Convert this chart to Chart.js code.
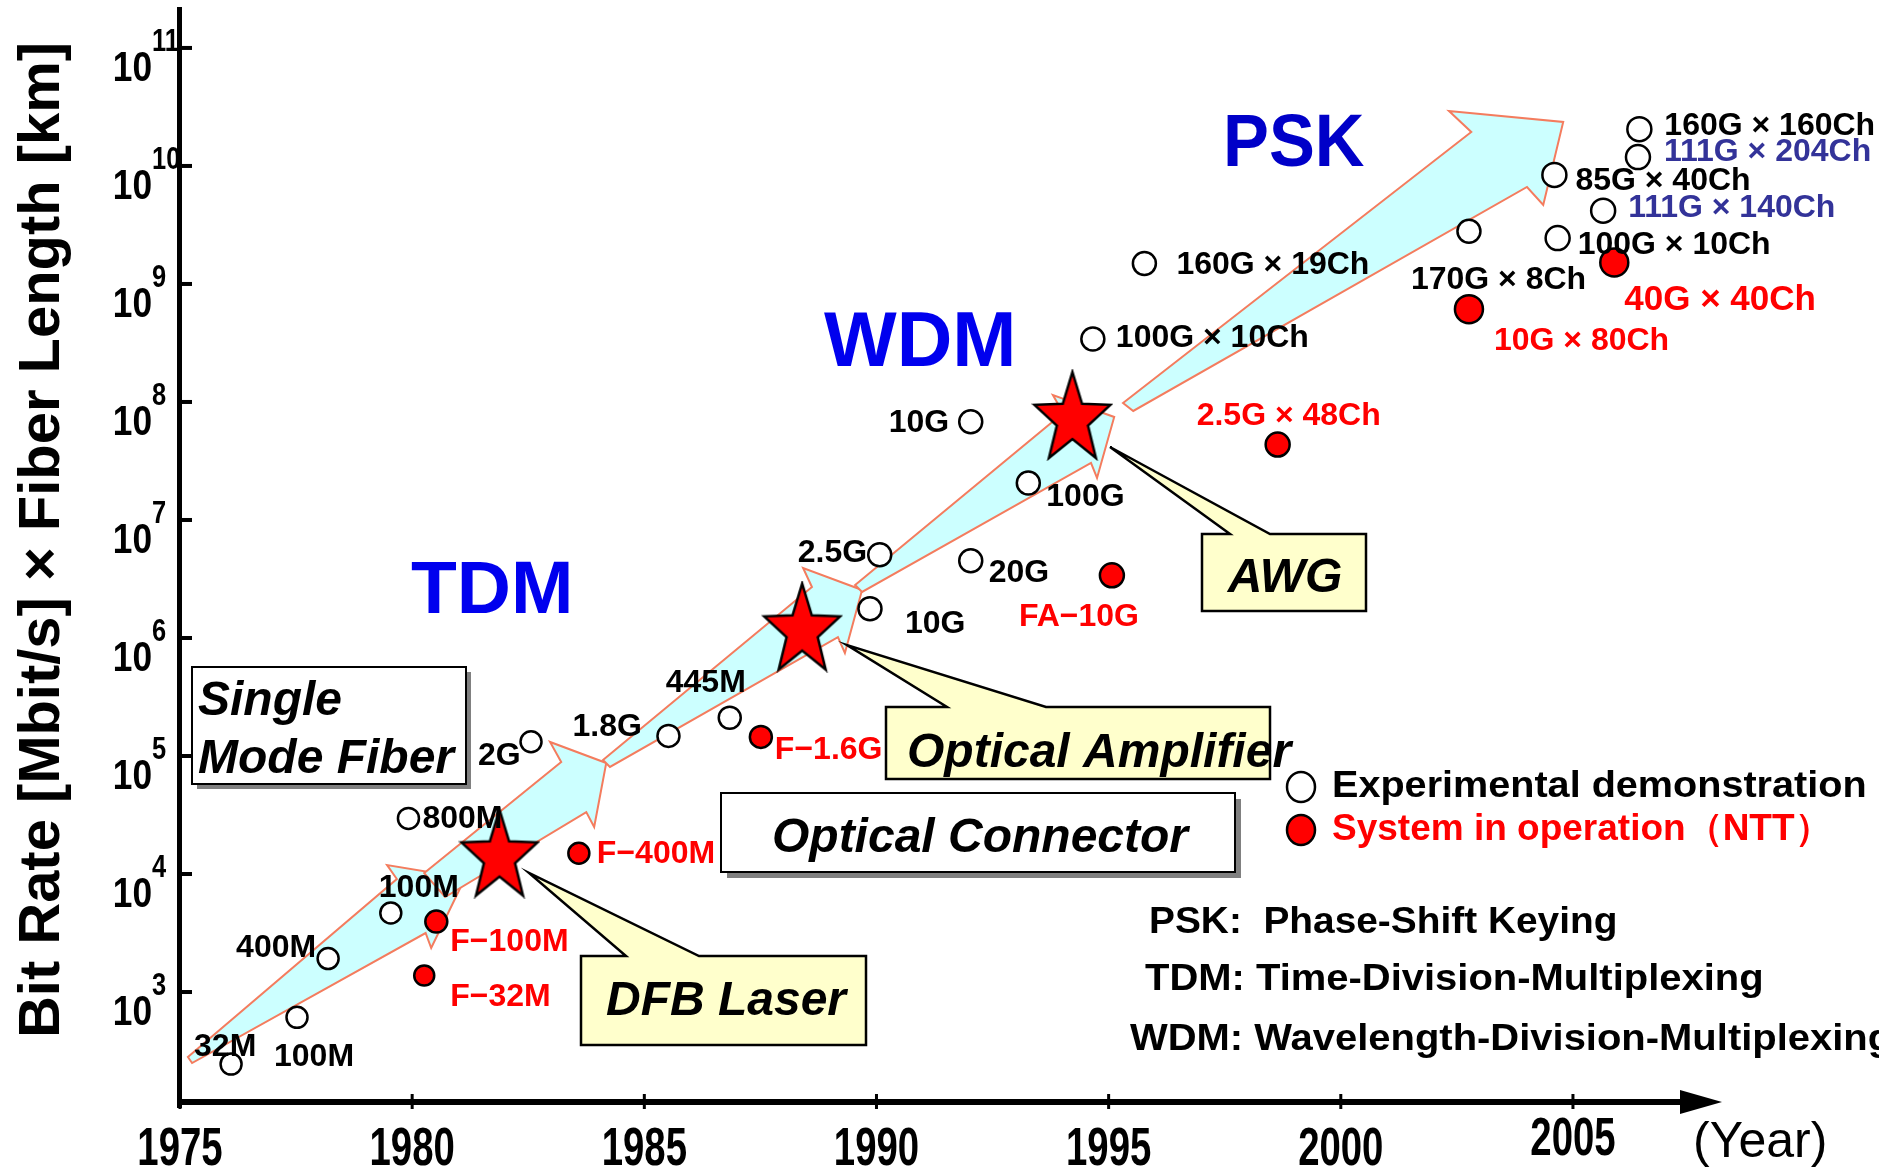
<!DOCTYPE html>
<html><head><meta charset="utf-8">
<script src="https://cdn.jsdelivr.net/npm/chart.js@4.4.1/dist/chart.umd.min.js"></script>
<style>html,body{margin:0;padding:0;background:#fff;} canvas{display:block;}</style>
</head><body>
<canvas id="c" width="1879" height="1172"></canvas>
<script>
// ---------------- DATA ----------------
const xTickYears = [1975, 1980, 1985, 1990, 1995, 2000, 2005];
const yTickExponents = [3, 4, 5, 6, 7, 8, 9, 10, 11];

// Experimental demonstrations (open circles)
const expYears  = [1976.10, 1977.52, 1978.19, 1979.54, 1979.92, 1982.56, 1985.52, 1986.84, 1990.07, 1989.86, 1992.03, 1993.27, 1992.03, 1994.66, 1995.77, 2002.76, 2004.60, 2004.67, 2005.65, 2006.40, 2006.43];
const expValues = [245, 610, 1920, 4670, 29600, 1.32e5, 1.48e5, 2.11e5, 5.07e6, 1.77e6, 4.51e6, 2.06e7, 6.79e7, 3.41e8, 1.49e9, 2.8e9, 8.4e9, 2.45e9, 4.18e9, 1.19e10, 2.05e10];
const expLabels = ['32M', '100M', '400M', '100M', '800M', '2G', '1.8G', '445M', '2.5G', '10G', '20G', '100G', '10G', '100G × 10Ch', '160G × 19Ch', '170G × 8Ch', '85G × 40Ch', '100G × 10Ch', '111G × 140Ch', '111G × 204Ch', '160G × 160Ch'];

// Systems in operation (NTT) (red dots)
const sysYears  = [1980.26, 1980.52, 1983.59, 1987.51, 1995.07, 1998.64, 2002.76, 2005.89];
const sysValues = [1380, 3950, 1.5e4, 1.45e5, 3.4e6, 4.36e7, 6.12e8, 1.52e9];
const sysLabels = ['F−32M', 'F−100M', 'F−400M', 'F−1.6G', 'FA−10G', '2.5G × 48Ch', '10G × 80Ch', '40G × 40Ch'];

// Key technologies (stars)
const techYears  = [1981.88, 1988.40, 1994.22];
const techValues = [1.52e4, 1.25e6, 7.76e7];
const techNames  = ['DFB Laser', 'Optical Amplifier', 'AWG'];

// Era trend arrows, outline vertices as [year, log10(value)]
const arrowTDM1 = [[1975.17,2.449],[1979.67,3.958],[1979.46,4.076],[1981.14,3.966],[1980.41,3.373],[1980.29,3.500],[1975.26,2.398]];
const arrowTDM2 = [[1980.26,4.008],[1983.21,4.949],[1982.97,5.119],[1984.18,4.941],[1983.92,4.398],[1983.75,4.525],[1980.71,3.805]];
const arrowTDM3 = [[1984.11,4.966],[1988.61,6.432],[1988.42,6.593],[1989.69,6.407],[1989.32,5.873],[1989.17,6.008],[1984.26,4.907]];
const arrowWDM  = [[1989.54,6.449],[1994.02,7.907],[1993.80,8.059],[1995.12,7.873],[1994.75,7.356],[1994.62,7.483],[1989.69,6.390]];
const arrowPSK  = [[1995.31,7.992],[2002.81,10.288],[2002.33,10.466],[2004.79,10.373],[2004.36,9.669],[2004.01,9.822],[1995.53,7.924]];
const eraArrows = [arrowTDM1, arrowTDM2, arrowTDM3, arrowWDM, arrowPSK];

// ---------------- STYLE ----------------
const FONT = '"Liberation Sans", Arial, Helvetica, sans-serif';
const expRadius = [10.5,10.5,10.5,10.5,10.5,10.5,11,11,11.5,11.5,11.5,11.5,11.5,11.5,11.5,11.5,12,12,12,12,12];
const sysRadius = [10,11,10.5,11,12,12,14,14];
const expLabelOffsets = [[-37,-8],[-23,49],[-92,-2],[-12,-16],[14,10],[-53,23],[-96,0],[-64,-26],[-82,7],[35,24],[18,21],[18,23],[-82,10],[23,8],[32,10],[-58,58],[21,15],[20,16],[25,6],[26,4],[25,6]];
const expLabelColors = expLabels.map((_, i) => (i === 18 || i === 19) ? '#333399' : '#000');
const sysLabelOffsets = [[26,30],[14,29],[18,10],[14,22],[-93,51],[-81,-20],[25,41],[10,47]];
const sysLabelSizes = [32,32,32,32,32,32,32,35];

function makeStar(w, h) {
  const c = document.createElement('canvas');
  c.width = w + 6; c.height = h + 6;
  const g = c.getContext('2d');
  const rx = w / 1.902, ry = h / 1.809;
  const cx = c.width / 2, cy = c.height / 2 + 0.0955 * ry;
  g.beginPath();
  for (let i = 0; i < 10; i++) {
    const a = -Math.PI / 2 + i * Math.PI / 5;
    const r = (i % 2 === 0) ? 1 : 0.41;
    const x = cx + Math.cos(a) * r * rx, y = cy + Math.sin(a) * r * ry;
    i ? g.lineTo(x, y) : g.moveTo(x, y);
  }
  g.closePath();
  g.fillStyle = '#FF0000'; g.fill();
  g.lineWidth = 2.5; g.strokeStyle = '#000'; g.lineJoin = 'miter'; g.stroke();
  return c;
}
const starImg = makeStar(76, 86);

function txt(ctx, s, x, y, font, color, align, sx) {
  ctx.save();
  ctx.font = font; ctx.fillStyle = color; ctx.textAlign = align || 'left'; ctx.textBaseline = 'alphabetic';
  ctx.translate(x, y); ctx.scale(sx || 1, 1); ctx.fillText(s, 0, 0);
  ctx.restore();
}
function shadowBox(ctx, x1, y1, x2, y2, off) {
  ctx.save();
  ctx.fillStyle = '#808080'; ctx.fillRect(x1 + off, y1 + off, x2 - x1, y2 - y1);
  ctx.fillStyle = '#fff'; ctx.fillRect(x1, y1, x2 - x1, y2 - y1);
  ctx.strokeStyle = '#000'; ctx.lineWidth = 2; ctx.strokeRect(x1, y1, x2 - x1, y2 - y1);
  ctx.restore();
}
function callout(ctx, b, p) {
  ctx.save();
  ctx.beginPath();
  ctx.moveTo(b[0], b[1]); ctx.lineTo(p[0], b[1]); ctx.lineTo(p[2], p[3]); ctx.lineTo(p[1], b[1]);
  ctx.lineTo(b[2], b[1]); ctx.lineTo(b[2], b[3]); ctx.lineTo(b[0], b[3]); ctx.closePath();
  ctx.fillStyle = '#FFFFCC'; ctx.fill();
  ctx.strokeStyle = '#000'; ctx.lineWidth = 2.5; ctx.lineJoin = 'miter'; ctx.stroke();
  ctx.restore();
}

const decor = {
  id: 'decor',
  beforeDatasetsDraw(chart) {
    const ctx = chart.ctx, xs = chart.scales.x, ys = chart.scales.y;
    // era arrows
    eraArrows.forEach(arr => {
      ctx.save();
      ctx.beginPath();
      arr.forEach(([yr, e], i) => {
        const px = xs.getPixelForValue(yr), py = ys.getPixelForValue(Math.pow(10, e));
        i ? ctx.lineTo(px, py) : ctx.moveTo(px, py);
      });
      ctx.closePath();
      ctx.fillStyle = '#CCFFFF'; ctx.fill();
      ctx.strokeStyle = '#F47C5E'; ctx.lineWidth = 2; ctx.lineJoin = 'miter'; ctx.stroke();
      ctx.restore();
    });
    // boxes
    shadowBox(ctx, 192, 667, 466, 784, 5);
    txt(ctx, 'Single', 198, 715, 'italic bold 48px ' + FONT, '#000');
    txt(ctx, 'Mode Fiber', 198, 773, 'italic bold 48px ' + FONT, '#000');
    shadowBox(ctx, 721, 793, 1235, 872, 6);
    txt(ctx, 'Optical Connector', 980, 852, 'italic bold 48px ' + FONT, '#000', 'center');
    // callouts for technologies
    callout(ctx, [581, 956, 866, 1045], [626, 699, 529, 873]);
    callout(ctx, [886, 707, 1270, 779], [947, 1046, 847, 645]);
    callout(ctx, [1202, 534, 1366, 611], [1230, 1270, 1110, 447]);
    txt(ctx, techNames[0], 726, 1015, 'italic bold 48px ' + FONT, '#000', 'center');
    txt(ctx, techNames[1], 907, 767, 'italic bold 48px ' + FONT, '#000');
    txt(ctx, techNames[2], 1285, 592, 'italic bold 48px ' + FONT, '#000', 'center');
    // era names
    txt(ctx, 'TDM', 411, 613, 'bold 75px ' + FONT, '#0000EE');
    txt(ctx, 'WDM', 824, 366, 'bold 77px ' + FONT, '#0000EE');
    txt(ctx, 'PSK', 1223, 166, 'bold 74px ' + FONT, '#0000C8', 'left', 0.93);
  },
  afterDatasetsDraw(chart) {
    const ctx = chart.ctx;
    const m0 = chart.getDatasetMeta(0), m1 = chart.getDatasetMeta(1);
    m0.data.forEach((pt, i) => {
      const [dx, dy] = expLabelOffsets[i];
      txt(ctx, expLabels[i], pt.x + dx, pt.y + dy, 'bold 32px ' + FONT, expLabelColors[i]);
    });
    m1.data.forEach((pt, i) => {
      const [dx, dy] = sysLabelOffsets[i];
      txt(ctx, sysLabels[i], pt.x + dx, pt.y + dy, 'bold ' + sysLabelSizes[i] + 'px ' + FONT, '#FF0000');
    });
    // legend
    ctx.save();
    ctx.lineWidth = 2.5; ctx.strokeStyle = '#000';
    ctx.beginPath(); ctx.ellipse(1301, 787, 14, 15, 0, 0, Math.PI * 2); ctx.fillStyle = '#fff'; ctx.fill(); ctx.stroke();
    ctx.beginPath(); ctx.ellipse(1301, 830, 14, 15, 0, 0, Math.PI * 2); ctx.fillStyle = '#FF0000'; ctx.fill(); ctx.stroke();
    ctx.restore();
    txt(ctx, 'Experimental demonstration', 1332, 797, 'bold 37px ' + FONT, '#000', 'left', 1.07);
    txt(ctx, 'System in operation（NTT）', 1332, 840, 'bold 37px ' + FONT, '#FF0000');
    // definitions
    txt(ctx, 'PSK:  Phase-Shift Keying', 1149, 933, 'bold 37px ' + FONT, '#000', 'left', 1.05);
    txt(ctx, 'TDM: Time-Division-Multiplexing', 1145, 990, 'bold 37px ' + FONT, '#000', 'left', 1.08);
    txt(ctx, 'WDM: Wavelength-Division-Multiplexing', 1130, 1050, 'bold 37px ' + FONT, '#000', 'left', 1.08);
  },
  afterDraw(chart) {
    const ctx = chart.ctx, xs = chart.scales.x, ys = chart.scales.y, a = chart.chartArea;
    ctx.save();
    ctx.fillStyle = '#000';
    // y axis
    ctx.fillRect(a.left - 3, a.top, 5, a.bottom - a.top + 6);
    // x axis with arrow
    ctx.fillRect(a.left - 3, a.bottom - 3, a.right - a.left + 3, 6);
    ctx.beginPath();
    ctx.moveTo(a.right - 3, a.bottom - 12); ctx.lineTo(a.right + 39, a.bottom); ctx.lineTo(a.right - 3, a.bottom + 12); ctx.closePath(); ctx.fill();
    // x ticks and labels
    xTickYears.forEach(yr => {
      const px = xs.getPixelForValue(yr);
      ctx.fillRect(px - 1.5, a.bottom - 8, 3, 15);
      txt(ctx, String(yr), px, yr === 2005 ? 1155 : 1165, 'bold 54px ' + FONT, '#000', 'center', 0.71);
    });
    txt(ctx, '(Year)', 1693, 1157, '50px ' + FONT, '#000', 'left', 1.0);
    // y ticks and labels
    yTickExponents.forEach(e => {
      const py = ys.getPixelForValue(Math.pow(10, e));
      ctx.fillRect(a.left, py - 2, 12, 4);
      txt(ctx, '10', 152, py + 33, 'bold 43px ' + FONT, '#000', 'right', 0.82);
      txt(ctx, String(e), 152, py + 3, 'bold 31px ' + FONT, '#000', 'left', 0.82);
    });
    ctx.restore();
    // y axis title
    ctx.save();
    const title = 'Bit Rate [Mbit/s] × Fiber Length [km]';
    ctx.font = 'bold 57px ' + FONT;
    const w = ctx.measureText(title).width;
    ctx.translate(59, 540); ctx.rotate(-Math.PI / 2);
    ctx.scale(996 / w, 1);
    ctx.textAlign = 'center'; ctx.textBaseline = 'alphabetic'; ctx.fillStyle = '#000';
    ctx.fillText(title, 0, 0);
    ctx.restore();
  }
};

const toPts = (xs, ys) => xs.map((x, i) => ({ x: x, y: ys[i] }));

new Chart(document.getElementById('c'), {
  type: 'scatter',
  data: {
    datasets: [
      { label: 'Experimental demonstration', data: toPts(expYears, expValues), pointStyle: 'circle',
        pointRadius: expRadius, pointBackgroundColor: '#fff', pointBorderColor: '#000', pointBorderWidth: 2.5, clip: false },
      { label: 'System in operation (NTT)', data: toPts(sysYears, sysValues), pointStyle: 'circle',
        pointRadius: sysRadius, pointBackgroundColor: '#FF0000', pointBorderColor: '#000', pointBorderWidth: 2.5, clip: false },
      { label: 'Key technology', data: toPts(techYears, techValues), pointStyle: starImg,
        pointRadius: 38, clip: false }
    ]
  },
  options: {
    responsive: false, animation: false, devicePixelRatio: 1, events: [],
    layout: { autoPadding: false, padding: { left: 180, right: 196, top: 7, bottom: 70 } },
    plugins: { legend: { display: false }, tooltip: { enabled: false } },
    scales: {
      x: { type: 'linear', min: 1975, max: 2007.37, display: false },
      y: { type: 'logarithmic', min: Math.pow(10, 2.068), max: Math.pow(10, 11.347), display: false }
    }
  },
  plugins: [decor]
});
</script>
</body></html>
